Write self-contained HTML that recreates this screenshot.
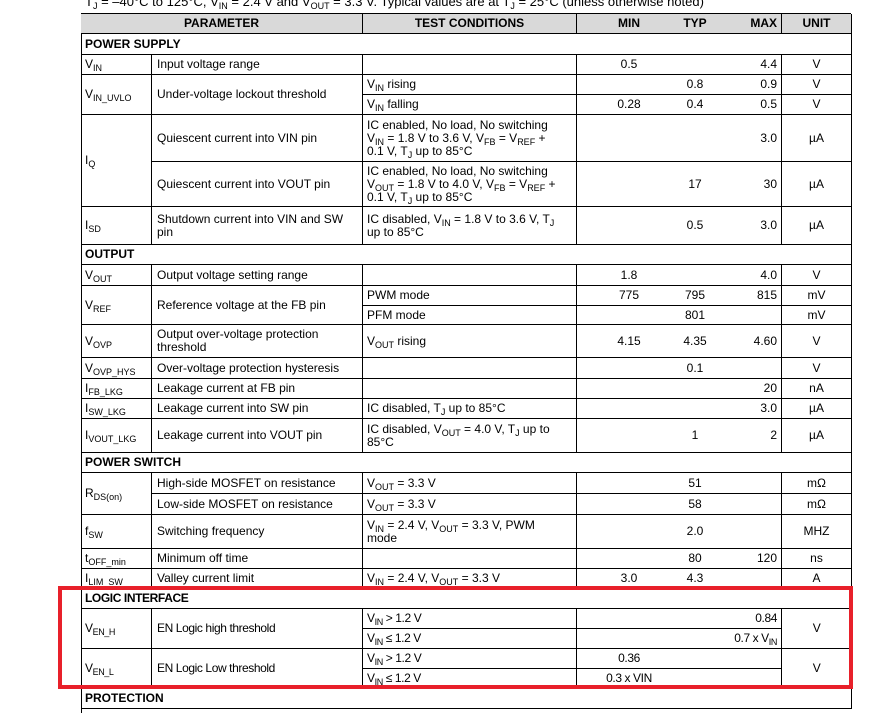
<!DOCTYPE html>
<html><head><meta charset="utf-8">
<style>
html,body{margin:0;padding:0;background:#fff;}
body{width:887px;height:696px;overflow:hidden;position:relative;font-family:"Liberation Sans",Arial,sans-serif;font-size:12px;color:#000;}
#t{position:absolute;left:81px;top:13px;width:770px;height:700px;border-left:1px solid #000;border-top:1px solid #000;box-sizing:border-box;}
.c{position:absolute;box-sizing:border-box;border-right:1px solid #000;border-bottom:1px solid #000;display:flex;align-items:center;padding:0 4px;line-height:13px;}
.a{left:-1px;width:71px;}
.b{left:70px;width:211px;padding-left:5px;}
.d{left:281px;width:214px;}
.m{left:495px;width:205px;padding:0;}
.u{left:700px;width:70px;justify-content:center;}
.s{left:-1px;width:771px;font-weight:bold;}
.h{background:#d9d9d9;font-weight:bold;justify-content:center;}
sub{font-size:9px;vertical-align:-3px;line-height:0;}
.mn,.ty,.mx{position:absolute;top:0;bottom:0;display:flex;align-items:center;}
.mn{left:0;width:104px;justify-content:center;}
.ty{left:82px;width:72px;justify-content:center;}
.mx{right:4px;}
.n{letter-spacing:-0.4px;}
#cap{position:absolute;left:85px;top:-6px;font-size:13px;white-space:nowrap;}
#red{position:absolute;left:58px;top:586px;width:795px;height:103px;box-sizing:border-box;border:4px solid #e8202a;}
</style></head><body>
<div id="cap">T<sub>J</sub> = –40°C to 125°C, V<sub>IN</sub> = 2.4 V and V<sub>OUT</sub> = 3.3 V. Typical values are at T<sub>J</sub> = 25°C (unless otherwise noted)</div>
<div id="t">
<div class="c h" style="left:-1px;width:282px;top:0;height:20px">PARAMETER</div>
<div class="c d h" style="top:0;height:20px">TEST CONDITIONS</div>
<div class="c m h" style="top:0;height:20px"><span class="mn">MIN</span><span class="ty">TYP</span><span class="mx">MAX</span></div>
<div class="c u h" style="top:0;height:20px">UNIT</div>

<div class="c s" style="top:20px;height:21px">POWER SUPPLY</div>

<div class="c a" style="top:41px;height:20px"><span>V<sub>IN</sub></span></div>
<div class="c b" style="top:41px;height:20px">Input voltage range</div>
<div class="c d" style="top:41px;height:20px"></div>
<div class="c m" style="top:41px;height:20px"><span class="mn">0.5</span><span class="mx">4.4</span></div>
<div class="c u" style="top:41px;height:20px">V</div>

<div class="c a" style="top:61px;height:40px"><span>V<sub>IN_UVLO</sub></span></div>
<div class="c b" style="top:61px;height:40px">Under-voltage lockout threshold</div>
<div class="c d" style="top:61px;height:20px"><span>V<sub>IN</sub> rising</span></div>
<div class="c m" style="top:61px;height:20px"><span class="ty">0.8</span><span class="mx">0.9</span></div>
<div class="c u" style="top:61px;height:20px">V</div>
<div class="c d" style="top:81px;height:20px"><span>V<sub>IN</sub> falling</span></div>
<div class="c m" style="top:81px;height:20px"><span class="mn">0.28</span><span class="ty">0.4</span><span class="mx">0.5</span></div>
<div class="c u" style="top:81px;height:20px">V</div>

<div class="c a" style="top:101px;height:92px"><span>I<sub>Q</sub></span></div>
<div class="c b" style="top:101px;height:47px">Quiescent current into VIN pin</div>
<div class="c d" style="top:101px;height:47px"><div>IC enabled, No load, No switching<br>V<sub>IN</sub> = 1.8 V to 3.6 V, V<sub>FB</sub> = V<sub>REF</sub> +<br>0.1 V, T<sub>J</sub> up to 85°C</div></div>
<div class="c m" style="top:101px;height:47px"><span class="mx">3.0</span></div>
<div class="c u" style="top:101px;height:47px">µA</div>
<div class="c b" style="top:148px;height:45px">Quiescent current into VOUT pin</div>
<div class="c d" style="top:148px;height:45px"><div>IC enabled, No load, No switching<br>V<sub>OUT</sub> = 1.8 V to 4.0 V, V<sub>FB</sub> = V<sub>REF</sub> +<br>0.1 V, T<sub>J</sub> up to 85°C</div></div>
<div class="c m" style="top:148px;height:45px"><span class="ty">17</span><span class="mx">30</span></div>
<div class="c u" style="top:148px;height:45px">µA</div>

<div class="c a" style="top:193px;height:38px"><span>I<sub>SD</sub></span></div>
<div class="c b" style="top:193px;height:38px"><div>Shutdown current into VIN and SW<br>pin</div></div>
<div class="c d" style="top:193px;height:38px"><div>IC disabled, V<sub>IN</sub> = 1.8 V to 3.6 V, T<sub>J</sub><br>up to 85°C</div></div>
<div class="c m" style="top:193px;height:38px"><span class="ty">0.5</span><span class="mx">3.0</span></div>
<div class="c u" style="top:193px;height:38px">µA</div>

<div class="c s" style="top:231px;height:20px">OUTPUT</div>

<div class="c a" style="top:251px;height:21px"><span>V<sub>OUT</sub></span></div>
<div class="c b" style="top:251px;height:21px">Output voltage setting range</div>
<div class="c d" style="top:251px;height:21px"></div>
<div class="c m" style="top:251px;height:21px"><span class="mn">1.8</span><span class="mx">4.0</span></div>
<div class="c u" style="top:251px;height:21px">V</div>

<div class="c a" style="top:272px;height:39px"><span>V<sub>REF</sub></span></div>
<div class="c b" style="top:272px;height:39px">Reference voltage at the FB pin</div>
<div class="c d" style="top:272px;height:20px">PWM mode</div>
<div class="c m" style="top:272px;height:20px"><span class="mn">775</span><span class="ty">795</span><span class="mx">815</span></div>
<div class="c u" style="top:272px;height:20px">mV</div>
<div class="c d" style="top:292px;height:19px">PFM mode</div>
<div class="c m" style="top:292px;height:19px"><span class="ty">801</span></div>
<div class="c u" style="top:292px;height:19px">mV</div>

<div class="c a" style="top:311px;height:33px"><span>V<sub>OVP</sub></span></div>
<div class="c b" style="top:311px;height:33px"><div>Output over-voltage protection<br>threshold</div></div>
<div class="c d" style="top:311px;height:33px"><span>V<sub>OUT</sub> rising</span></div>
<div class="c m" style="top:311px;height:33px"><span class="mn">4.15</span><span class="ty">4.35</span><span class="mx">4.60</span></div>
<div class="c u" style="top:311px;height:33px">V</div>

<div class="c a" style="top:344px;height:21px"><span>V<sub>OVP_HYS</sub></span></div>
<div class="c b" style="top:344px;height:21px">Over-voltage protection hysteresis</div>
<div class="c d" style="top:344px;height:21px"></div>
<div class="c m" style="top:344px;height:21px"><span class="ty">0.1</span></div>
<div class="c u" style="top:344px;height:21px">V</div>

<div class="c a" style="top:365px;height:20px"><span>I<sub>FB_LKG</sub></span></div>
<div class="c b" style="top:365px;height:20px">Leakage current at FB pin</div>
<div class="c d" style="top:365px;height:20px"></div>
<div class="c m" style="top:365px;height:20px"><span class="mx">20</span></div>
<div class="c u" style="top:365px;height:20px">nA</div>

<div class="c a" style="top:385px;height:20px"><span>I<sub>SW_LKG</sub></span></div>
<div class="c b" style="top:385px;height:20px">Leakage current into SW pin</div>
<div class="c d" style="top:385px;height:20px"><span>IC disabled, T<sub>J</sub> up to 85°C</span></div>
<div class="c m" style="top:385px;height:20px"><span class="mx">3.0</span></div>
<div class="c u" style="top:385px;height:20px">µA</div>

<div class="c a" style="top:405px;height:34px"><span>I<sub>VOUT_LKG</sub></span></div>
<div class="c b" style="top:405px;height:34px">Leakage current into VOUT pin</div>
<div class="c d" style="top:405px;height:34px"><div>IC disabled, V<sub>OUT</sub> = 4.0 V, T<sub>J</sub> up to<br>85°C</div></div>
<div class="c m" style="top:405px;height:34px"><span class="ty">1</span><span class="mx">2</span></div>
<div class="c u" style="top:405px;height:34px">µA</div>

<div class="c s" style="top:439px;height:20px">POWER SWITCH</div>

<div class="c a" style="top:459px;height:42px"><span>R<sub>DS(on)</sub></span></div>
<div class="c b" style="top:459px;height:21px">High-side MOSFET on resistance</div>
<div class="c d" style="top:459px;height:21px"><span>V<sub>OUT</sub> = 3.3 V</span></div>
<div class="c m" style="top:459px;height:21px"><span class="ty">51</span></div>
<div class="c u" style="top:459px;height:21px">mΩ</div>
<div class="c b" style="top:480px;height:21px">Low-side MOSFET on resistance</div>
<div class="c d" style="top:480px;height:21px"><span>V<sub>OUT</sub> = 3.3 V</span></div>
<div class="c m" style="top:480px;height:21px"><span class="ty">58</span></div>
<div class="c u" style="top:480px;height:21px">mΩ</div>

<div class="c a" style="top:501px;height:34px"><span>f<sub>SW</sub></span></div>
<div class="c b" style="top:501px;height:34px">Switching frequency</div>
<div class="c d" style="top:501px;height:34px"><div>V<sub>IN</sub> = 2.4 V, V<sub>OUT</sub> = 3.3 V, PWM<br>mode</div></div>
<div class="c m" style="top:501px;height:34px"><span class="ty">2.0</span></div>
<div class="c u" style="top:501px;height:34px">MHZ</div>

<div class="c a" style="top:535px;height:20px"><span>t<sub>OFF_min</sub></span></div>
<div class="c b" style="top:535px;height:20px">Minimum off time</div>
<div class="c d" style="top:535px;height:20px"></div>
<div class="c m" style="top:535px;height:20px"><span class="ty">80</span><span class="mx">120</span></div>
<div class="c u" style="top:535px;height:20px">ns</div>

<div class="c a" style="top:555px;height:20px"><span>I<sub>LIM_SW</sub></span></div>
<div class="c b" style="top:555px;height:20px">Valley current limit</div>
<div class="c d" style="top:555px;height:20px"><span>V<sub>IN</sub> = 2.4 V, V<sub>OUT</sub> = 3.3 V</span></div>
<div class="c m" style="top:555px;height:20px"><span class="mn">3.0</span><span class="ty">4.3</span></div>
<div class="c u" style="top:555px;height:20px">A</div>

<div class="c s n" style="top:575px;height:20px">LOGIC INTERFACE</div>

<div class="c a n" style="top:595px;height:40px"><span>V<sub>EN_H</sub></span></div>
<div class="c b n" style="top:595px;height:40px">EN Logic high threshold</div>
<div class="c d n" style="top:595px;height:20px"><span>V<sub>IN</sub> &gt; 1.2 V</span></div>
<div class="c m n" style="top:595px;height:20px"><span class="mx">0.84</span></div>
<div class="c d n" style="top:615px;height:20px"><span>V<sub>IN</sub> ≤ 1.2 V</span></div>
<div class="c m n" style="top:615px;height:20px"><span class="mx"><span>0.7 x V<sub>IN</sub></span></span></div>
<div class="c u n" style="top:595px;height:40px">V</div>

<div class="c a n" style="top:635px;height:40px"><span>V<sub>EN_L</sub></span></div>
<div class="c b n" style="top:635px;height:40px">EN Logic Low threshold</div>
<div class="c d n" style="top:635px;height:20px"><span>V<sub>IN</sub> &gt; 1.2 V</span></div>
<div class="c m n" style="top:635px;height:20px"><span class="mn">0.36</span></div>
<div class="c d n" style="top:655px;height:20px"><span>V<sub>IN</sub> ≤ 1.2 V</span></div>
<div class="c m n" style="top:655px;height:20px"><span class="mn">0.3 x VIN</span></div>
<div class="c u n" style="top:635px;height:40px">V</div>

<div class="c s" style="top:675px;height:20px;align-items:flex-start;padding-top:3px">PROTECTION</div>
</div>
<div id="red"></div>
</body></html>
